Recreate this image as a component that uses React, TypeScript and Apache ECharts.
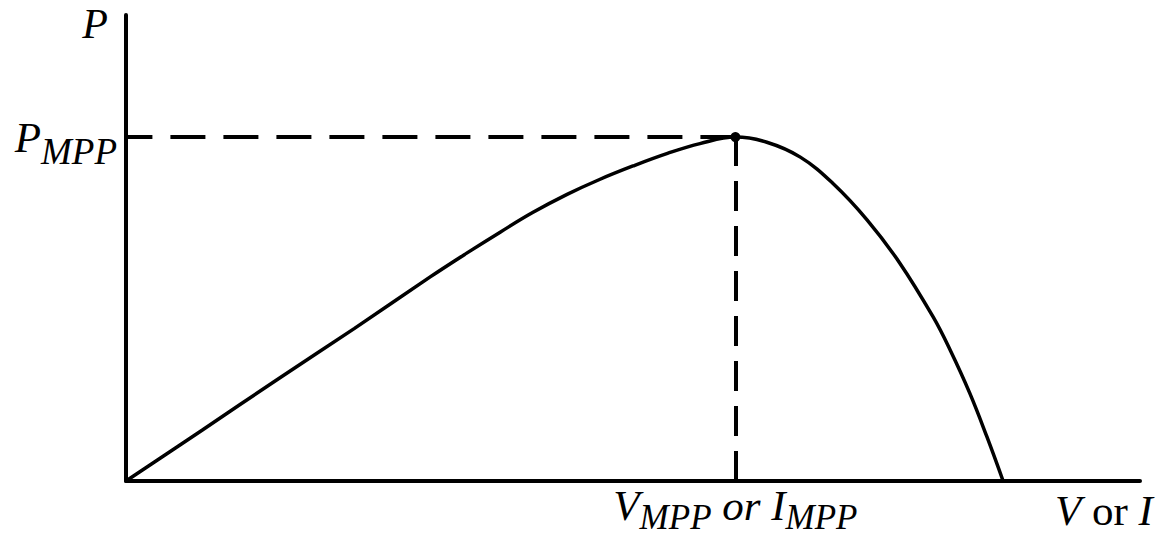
import React, { useEffect, useRef } from "react";
import * as echarts from "echarts";

// P–V (or P–I) curve, in relative units (0–100 on each axis)
const voltage = [0, 7.5, 15.0, 22.5, 30.0, 33.6, 36.9, 40.1, 43.5, 46.7, 50.0, 53.4, 56.6, 60.1, 63.2, 66.5, 69.7, 73.1, 76.3, 79.6, 81.3, 83.2, 84.9, 86.5];
const power = [0, 10.9, 21.9, 32.7, 43.8, 48.9, 53.4, 57.6, 61.5, 64.7, 67.6, 70.3, 72.4, 73.8, 72.7, 69.5, 63.9, 56.0, 46.8, 35.2, 28.0, 18.9, 9.5, 0];
const vMpp = 60.1;
const pMpp = 73.8;

const yTickLabel = "{i|P}{s|MPP}";
const xTickLabel = "{i|V}{s|MPP}{i| or I}{s|MPP}";
const yAxisName = "P";
const xAxisName = "{i|V}{r| or }{i|I}";

const FONT = "'Liberation Serif', 'Times New Roman', serif";

const yRich = {
  i: { fontFamily: FONT, fontStyle: "italic", fontSize: 43, color: "#000", lineHeight: 66 },
  s: { fontFamily: FONT, fontStyle: "italic", fontSize: 37, color: "#000", lineHeight: 40, verticalAlign: "bottom" },
};
const xRich = {
  i: { fontFamily: FONT, fontStyle: "italic", fontSize: 43, color: "#000", lineHeight: 60 },
  s: { fontFamily: FONT, fontStyle: "italic", fontSize: 35, color: "#000", lineHeight: 38, verticalAlign: "bottom" },
};

export default function App() {
  const ref = useRef<HTMLDivElement>(null);
  useEffect(() => {
    if (!ref.current) return;
    const chart = echarts.init(ref.current, undefined, { renderer: "svg" });
    const data = voltage.map((v, i) => [v, power[i]]);
    chart.setOption({
      animation: false,
      backgroundColor: "#ffffff",
      grid: {
        left: 126,
        right: 32,
        top: 15,
        bottom: 58,
        containLabel: false,
        outerBoundsMode: "none",
      },
      xAxis: {
        type: "value",
        min: 0,
        max: 100,
        axisLine: { show: true, onZero: false, lineStyle: { color: "#000", width: 4 } },
        axisTick: { show: false },
        splitLine: { show: false },
        axisLabel: {
          customValues: [vMpp],
          formatter: () => xTickLabel,
          margin: -6,
          color: "#000",
          rich: xRich,
        },
        name: xAxisName,
        nameLocation: "end",
        nameGap: -85,
        nameTextStyle: {
          align: "left",
          verticalAlign: "top",
          padding: [5, 0, 0, 0],
          rich: {
            i: { fontFamily: FONT, fontStyle: "italic", fontSize: 43, color: "#000", lineHeight: 48 },
            r: { fontFamily: FONT, fontStyle: "normal", fontSize: 43, color: "#000", lineHeight: 48 },
          },
        },
      },
      yAxis: {
        type: "value",
        min: 0,
        max: 100,
        axisLine: { show: true, onZero: false, lineStyle: { color: "#000", width: 4 } },
        axisTick: { show: false },
        splitLine: { show: false },
        axisLabel: {
          customValues: [pMpp],
          formatter: () => yTickLabel,
          margin: 9,
          color: "#000",
          rich: yRich,
        },
        name: yAxisName,
        nameLocation: "end",
        nameGap: -9,
        nameTextStyle: {
          fontFamily: FONT,
          fontStyle: "italic",
          fontSize: 42,
          color: "#000",
          align: "right",
          verticalAlign: "middle",
          padding: [0, 18, 0, 0],
        },
      },
      series: [
        {
          type: "line",
          data,
          smooth: 0.4,
          symbol: "none",
          lineStyle: { color: "#000", width: 3.5 },
          silent: true,
          markLine: {
            silent: true,
            symbol: ["none", "none"],
            label: { show: false },
            lineStyle: { color: "#000", width: 4 },
            data: [
              [
                { coord: [vMpp, pMpp], lineStyle: { color: "#000", width: 4, type: [35, 18] } },
                { coord: [0, pMpp] },
              ],
              [
                { coord: [vMpp, 0], lineStyle: { color: "#000", width: 4, type: [30, 15] } },
                { coord: [vMpp, pMpp] },
              ],
            ],
          },
          markPoint: {
            silent: true,
            symbol: "circle",
            symbolSize: 10,
            itemStyle: { color: "#000" },
            label: { show: false },
            data: [{ coord: [vMpp, pMpp] }],
          },
        },
      ],
    });
    return () => chart.dispose();
  }, []);
  return (
    <div
      ref={ref}
      style={{ position: "fixed", left: 0, top: 0, width: 1172, height: 539, background: "#fff" }}
    />
  );
}
